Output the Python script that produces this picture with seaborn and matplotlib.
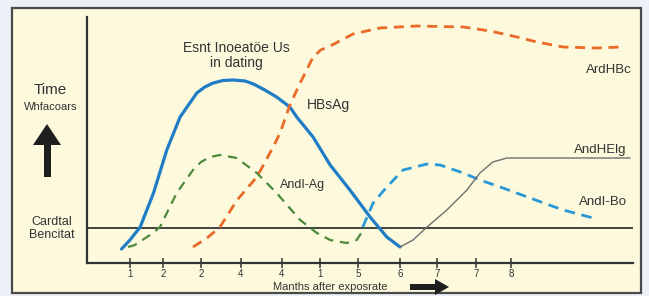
import numpy as np
import pandas as pd
import seaborn as sns
import matplotlib
matplotlib.use("Agg")
import matplotlib.pyplot as plt
from matplotlib.patches import Rectangle, Polygon

# ---------------- data ----------------
tick_pos = [1.13, 2.0, 3.0, 4.05, 5.13, 6.13, 7.13, 8.24, 9.21, 10.24, 11.16]
tick_labels = ["1", "2", "2", "4", "4", "1", "5", "6", "7", "7", "8"]
cutoff = 3.5

hbsag_x = [0.91, 1.13, 1.40, 1.75, 2.10, 2.45, 2.89, 3.10, 3.32, 3.58, 3.85, 4.16,
           4.38, 4.68, 4.99, 5.34, 5.52, 5.95, 6.40, 6.92, 7.45, 7.89, 8.24]
hbsag_y = [1.4, 2.3, 3.6, 7.0, 11.3, 14.6, 17.0, 17.6, 18.0, 18.25, 18.3, 18.2,
           17.9, 17.3, 16.6, 15.6, 14.6, 12.6, 9.8, 7.3, 4.6, 2.6, 1.6]

ag_x = [1.08, 1.26, 1.74, 1.92, 2.36, 2.79, 3.00, 3.24, 3.50, 3.94, 4.47, 4.99,
        5.61, 6.05, 6.40, 6.83, 7.10, 7.32]
ag_y = [1.6, 1.8, 3.0, 3.6, 7.0, 9.3, 10.1, 10.6, 10.8, 10.5, 9.0, 7.0,
        4.3, 3.0, 2.3, 2.0, 2.3, 3.6]

hbc_x = [2.79, 3.16, 3.50, 3.95, 4.47, 4.90, 5.08, 5.34, 5.61, 5.95, 6.15, 6.40,
         7.00, 7.71, 8.68, 9.90, 10.61, 11.32, 11.84, 12.53, 13.42, 14.03]
hbc_y = [1.6, 2.5, 3.6, 6.3, 8.6, 11.6, 13.0, 15.8, 18.0, 20.6, 21.3, 21.7,
         22.9, 23.5, 23.7, 23.6, 23.2, 22.6, 22.1, 21.6, 21.5, 21.6]

hbe_x = [7.26, 7.53, 7.89, 8.32, 8.95, 9.29, 9.90, 10.34, 10.95, 11.66,
         12.53, 13.32]
hbe_y = [3.6, 6.0, 7.6, 9.3, 9.9, 9.8, 9.0, 8.3, 7.5, 6.5,
         5.3, 4.5]

hbg_x = [8.24, 8.58, 8.95, 9.47, 10.00, 10.34, 10.68, 11.05, 11.66, 14.29]
hbg_y = [1.6, 2.3, 3.6, 5.3, 7.3, 9.0, 10.1, 10.5, 10.5, 10.5]

# ---------------- figure ----------------
sns.set_theme(style="white")
plt.rcParams["font.family"] = ["Liberation Sans", "DejaVu Sans"]

W, H = 649, 296
fig = plt.figure(figsize=(W / 100, H / 100), dpi=100, facecolor="#eef0f7")

def fx(px):
    return px / W

def fy(py):
    return 1 - py / H

# cream panel with frame
fig.patches.append(Rectangle((fx(12), fy(293)), fx(641) - fx(12), fy(8) - fy(293),
                             transform=fig.transFigure, facecolor="#fcf9dd",
                             edgecolor="#4a4a4a", lw=1.6, zorder=-5))

ax = fig.add_axes([fx(87), fy(263), fx(633) - fx(87), fy(17) - fy(263)])
ax.set_zorder(2)
ax.set_facecolor("none")
ax.patch.set_alpha(0)
ax.set_xlim(0, 14.37)
ax.set_ylim(0, 24.6)

ink = "#333333"
sns.lineplot(x=hbsag_x, y=hbsag_y, sort=False, ax=ax, color="#1f7dc6", lw=2.3,
             estimator=None, solid_joinstyle="round")
sns.lineplot(x=ag_x, y=ag_y, sort=False, ax=ax, color="#4c8a3b", lw=1.6,
             estimator=None, linestyle=(0, (4.2, 3.0)))
sns.lineplot(x=hbc_x, y=hbc_y, sort=False, ax=ax, color="#ea6a28", lw=2.0,
             estimator=None, linestyle=(0, (3.6, 2.4)))
sns.lineplot(x=hbe_x, y=hbe_y, sort=False, ax=ax, color="#2a98d5", lw=2.0,
             estimator=None, linestyle=(0, (3.8, 2.4)))
sns.lineplot(x=hbg_x, y=hbg_y, sort=False, ax=ax, color="#707070", lw=1.0,
             estimator=None)

ax.axhline(cutoff, color=ink, lw=1.3, zorder=1)

for s in ["top", "right"]:
    ax.spines[s].set_visible(False)
for s in ["left", "bottom"]:
    ax.spines[s].set_color(ink)
    ax.spines[s].set_linewidth(1.6)

ax.set_yticks([])
ax.set_xticks(tick_pos)
ax.set_xticklabels(tick_labels, fontsize=7, color=ink)
ax.tick_params(axis="x", direction="inout", length=7, width=1.1, color=ink, pad=1,
               bottom=True)
ax.set_xlabel("")
ax.set_ylabel("")

# curve labels
ax.text(3.92, 20.75, "Esnt Inoeatöe Us\nin dating", ha="center", va="center",
        fontsize=10, color=ink, linespacing=1.1)
ax.text(5.79, 15.8, "HBsAg", ha="left", va="center", fontsize=10, color=ink)
ax.text(5.08, 7.8, "AndI-Ag", ha="left", va="center", fontsize=9, color=ink)
ax.text(14.34, 19.3, "ArdHBc", ha="right", va="center", fontsize=9.5, color=ink)
ax.text(14.21, 11.3, "AndHElg", ha="right", va="center", fontsize=9.5, color=ink)
ax.text(14.21, 6.1, "AndI-Bo", ha="right", va="center", fontsize=9.5, color=ink)

# left side labels
fig.text(fx(50), fy(90), "Time", ha="center", va="center", fontsize=11, color=ink)
fig.text(fx(51), fy(107), "Whfacoars", ha="center", va="center", fontsize=8,
         color=ink)
fig.text(fx(52), fy(222), "Cardtal", ha="center", va="center", fontsize=9, color=ink)
fig.text(fx(52), fy(235), "Bencitat", ha="center", va="center", fontsize=9, color=ink)

# up arrow
up = [(44, 177), (51, 177), (51, 145), (61, 145), (47, 124), (33, 145), (44, 145)]
fig.patches.append(Polygon([(fx(a), fy(b)) for a, b in up], closed=True,
                           transform=fig.transFigure, facecolor="#1e1e1e",
                           edgecolor="none"))

# x label and right arrow
fig.text(fx(330), fy(286.5), "Manths after exposrate", ha="center", va="center",
         fontsize=8, color=ink)
rt = [(410, 284), (435, 284), (435, 279), (449, 287), (435, 295), (435, 290), (410, 290)]
fig.patches.append(Polygon([(fx(a), fy(b)) for a, b in rt], closed=True,
                           transform=fig.transFigure, facecolor="#1e1e1e",
                           edgecolor="none"))

fig.savefig("out.png", dpi=100, facecolor=fig.get_facecolor())
